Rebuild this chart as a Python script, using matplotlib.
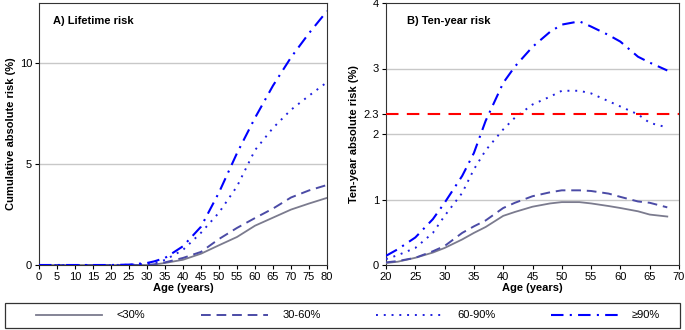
import matplotlib
matplotlib.use("Agg")
import matplotlib.pyplot as plt
from matplotlib.patches import Rectangle

plt.rcParams['font.family'] = ['Liberation Sans', 'DejaVu Sans']

# Panel A: lifetime risk
age_a = [0, 10, 20, 25, 30, 32, 35, 40, 45, 50, 55, 60, 65, 70, 75, 80]
life_lt30 = [0, 0, 0, 0, 0.0, 0.02, 0.1, 0.26, 0.56, 0.98, 1.39, 1.95, 2.35, 2.75, 3.05, 3.33]
life_30_60 = [0, 0, 0, 0, 0.0, 0.03, 0.13, 0.35, 0.65, 1.29, 1.84, 2.33, 2.8, 3.35, 3.7, 3.97]
life_60_90 = [0, 0, 0, 0.01, 0.05, 0.1, 0.25, 0.75, 1.6, 2.6, 3.9, 5.7, 6.8, 7.7, 8.4, 9.07]
life_ge90 = [0, 0, 0, 0.02, 0.1, 0.18, 0.35, 0.93, 1.9, 3.6, 5.55, 7.3, 8.9, 10.3, 11.5, 12.6]

# Panel B: ten-year risk
age_b = [20, 22, 25, 28, 30, 33, 35, 37, 40, 42, 45, 48, 50, 53, 55, 58, 60, 63, 65, 68]
ten_lt30 = [0.03, 0.05, 0.11, 0.19, 0.26, 0.39, 0.49, 0.58, 0.75, 0.81, 0.89, 0.94, 0.96, 0.96, 0.94, 0.9, 0.87, 0.82, 0.77, 0.74]
ten_30_60 = [0.04, 0.06, 0.11, 0.21, 0.29, 0.49, 0.59, 0.68, 0.87, 0.95, 1.05, 1.11, 1.14, 1.14, 1.13, 1.09, 1.04, 0.97, 0.95, 0.88]
ten_60_90 = [0.09, 0.15, 0.26, 0.49, 0.75, 1.1, 1.46, 1.75, 2.07, 2.25, 2.45, 2.57, 2.66, 2.66, 2.62, 2.5, 2.42, 2.3, 2.17, 2.1]
ten_ge90 = [0.14, 0.24, 0.42, 0.7, 0.95, 1.36, 1.71, 2.2, 2.78, 3.03, 3.33, 3.56, 3.67, 3.72, 3.64, 3.51, 3.41, 3.18, 3.09, 2.97]
threshold = 2.3

labels = ['<30%', '30-60%', '60-90%', '≥90%']
colors = ['#7b7b8e', '#4b4ba6', '#2020e0', '#0000ff']
styles = ['-', (0, (5, 3)), (0, (1, 3)), (0, (6, 3, 1, 3))]
widths = [1.3, 1.4, 1.4, 1.5]

fig = plt.figure(figsize=(6.85, 3.3), dpi=100)
axA = fig.add_axes([39/685, 1 - 265/330, 288/685, 262/330])
axB = fig.add_axes([386/685, 1 - 265/330, 293/685, 262/330])

handles = []
for y, c, s, w, l in zip([life_lt30, life_30_60, life_60_90, life_ge90], colors, styles, widths, labels):
    h, = axA.plot(age_a, y, color=c, linestyle=s, linewidth=w, label=l, zorder=3)
    handles.append(h)
for y, c, s, w in zip([ten_lt30, ten_30_60, ten_60_90, ten_ge90], colors, styles, widths):
    axB.plot(age_b, y, color=c, linestyle=s, linewidth=w, zorder=3)
axB.axhline(threshold, color='#ff0000', linestyle=(0, (6, 4)), linewidth=1.5, zorder=4)

axA.set_xlim(0, 80)
axA.set_ylim(0, 13)
axA.set_xticks(range(0, 81, 5))
axA.set_yticks([0, 5, 10])
axA.set_yticklabels(['0', '5', '10'])
for v in [5, 10]:
    axA.axhline(v, color='#c8c8c8', linewidth=1.0, zorder=1)

axB.set_xlim(20, 70)
axB.set_ylim(0, 4)
axB.set_xticks(range(20, 71, 5))
axB.set_yticks([0, 1, 2, 2.3, 3, 4])
axB.set_yticklabels(['0', '1', '2', '2.3', '3', '4'])
for v in [1, 2, 3]:
    axB.axhline(v, color='#c8c8c8', linewidth=1.0, zorder=1)

for ax in (axA, axB):
    ax.tick_params(labelsize=8, length=3, width=0.8, pad=2)
    ax.set_xlabel('Age (years)', fontsize=8, fontweight='bold', labelpad=1)
    for sp in ax.spines.values():
        sp.set_color('#333333')
        sp.set_linewidth(0.8)

axA.set_ylabel('Cumulative absolute risk (%)', fontsize=8, fontweight='bold', labelpad=3)
axB.set_ylabel('Ten-year absolute risk (%)', fontsize=8, fontweight='bold', labelpad=3)
axA.text(0.05, 0.93, 'A) Lifetime risk', transform=axA.transAxes, fontsize=8, fontweight='bold', va='center')
axB.text(0.07, 0.93, 'B) Ten-year risk', transform=axB.transAxes, fontsize=8, fontweight='bold', va='center')

leg = fig.legend(handles=handles, labels=labels, loc='center',
                 bbox_to_anchor=(348/685, 1 - 315.5/330), ncol=4, fontsize=8,
                 frameon=False, handlelength=6.0, handletextpad=1.3,
                 columnspacing=5.0, borderaxespad=0)
fig.patches.append(Rectangle((5/685, 2/330), 675/685, 25/330, transform=fig.transFigure,
                             fill=False, edgecolor='#333333', linewidth=0.9))

fig.savefig('out.png', dpi=100)
